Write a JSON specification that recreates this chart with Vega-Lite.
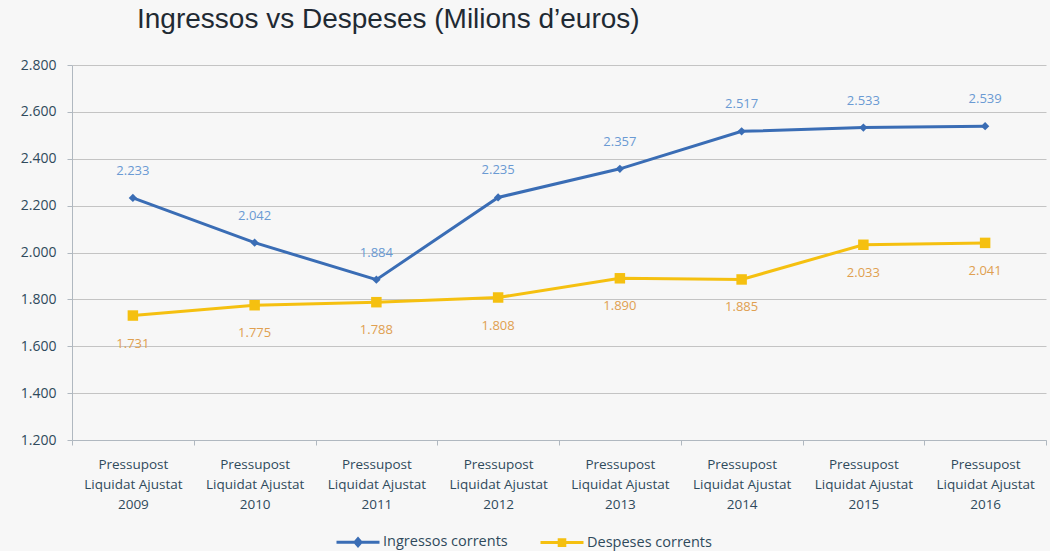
{
  "$schema": "https://vega.github.io/schema/vega-lite/v6.json",
  "width": 974,
  "height": 375,
  "autosize": {"type": "none"},
  "padding": {"left": 72, "top": 65, "right": 4, "bottom": 111},
  "background": "#F7F7F7",
  "config": {
    "locale": {"number": {"decimal": ",", "thousands": ".", "grouping": [3], "currency": ["", " €"]}},
    "view": {"stroke": null},
    "font": "Open Sans"
  },
  "title": {
    "text": "Ingressos vs Despeses (Milions d’euros)",
    "anchor": "start",
    "frame": "group",
    "dx": 65,
    "offset": 24,
    "fontSize": 28,
    "font": "Liberation Sans",
    "fontWeight": "normal",
    "color": "#1F2A33"
  },
  "data": {
    "values": [
      {"any": "2009", "serie": "Ingressos corrents", "valor": 2233},
      {"any": "2010", "serie": "Ingressos corrents", "valor": 2042},
      {"any": "2011", "serie": "Ingressos corrents", "valor": 1884},
      {"any": "2012", "serie": "Ingressos corrents", "valor": 2235},
      {"any": "2013", "serie": "Ingressos corrents", "valor": 2357},
      {"any": "2014", "serie": "Ingressos corrents", "valor": 2517},
      {"any": "2015", "serie": "Ingressos corrents", "valor": 2533},
      {"any": "2016", "serie": "Ingressos corrents", "valor": 2539},
      {"any": "2009", "serie": "Despeses corrents", "valor": 1731},
      {"any": "2010", "serie": "Despeses corrents", "valor": 1775},
      {"any": "2011", "serie": "Despeses corrents", "valor": 1788},
      {"any": "2012", "serie": "Despeses corrents", "valor": 1808},
      {"any": "2013", "serie": "Despeses corrents", "valor": 1890},
      {"any": "2014", "serie": "Despeses corrents", "valor": 1885},
      {"any": "2015", "serie": "Despeses corrents", "valor": 2033},
      {"any": "2016", "serie": "Despeses corrents", "valor": 2041}
    ]
  },
  "encoding": {
    "x": {
      "field": "any",
      "type": "ordinal",
      "bandPosition": 0.5,
      "scale": {"type": "band", "paddingInner": 0, "paddingOuter": 0},
      "axis": {
        "title": null,
        "labelAngle": 0,
        "labelExpr": "length(datum.label + '') == 4 ? ['Pressupost', 'Liquidat Ajustat', datum.label] : ''",
        "labelLineHeight": 20,
        "labelFontSize": 13.5,
        "labelColor": "#2F4A5C",
        "labelPadding": 12,
        "labelFlush": false,
        "labelOverlap": false,
        "tickBand": "extent",
        "tickColor": "#B0B8C0",
        "tickSize": 5,
        "domainColor": "#B0B8C0",
        "grid": false
      }
    },
    "y": {
      "field": "valor",
      "type": "quantitative",
      "scale": {"domain": [1200, 2800], "zero": false, "nice": false},
      "axis": {
        "title": null,
        "values": [1200, 1400, 1600, 1800, 2000, 2200, 2400, 2600, 2800],
        "format": ",d",
        "labelFontSize": 14,
        "labelColor": "#2F4A5C",
        "labelPadding": 11,
        "gridColor": "#C4C4C4",
        "tickColor": "#B0B8C0",
        "tickSize": 5,
        "domainColor": "#B0B8C0"
      }
    },
    "color": {
      "field": "serie",
      "type": "nominal",
      "scale": {"domain": ["Ingressos corrents", "Despeses corrents"], "range": ["#3A6DB5", "#F5C010"]},
      "legend": {
        "orient": "none",
        "legendX": 263,
        "legendY": 454,
        "direction": "horizontal",
        "title": null,
        "labelFontSize": 14.5,
        "labelColor": "#2F4A5C",
        "labelOffset": 2,
        "symbolSize": 1849,
        "symbolStrokeWidth": 3,
        "columnPadding": 26,
        "encode": {
          "symbols": {
            "update": {
              "shape": {"signal": "datum.value == 'Ingressos corrents' ? 'M-1,0H1M0,-0.16L0.14,0L0,0.16L-0.14,0Z' : 'M-1,0H1M-0.13,-0.13H0.13V0.13H-0.13Z'"},
              "stroke": {"signal": "datum.value == 'Ingressos corrents' ? '#3A6DB5' : '#F5C010'"},
              "fill": {"signal": "datum.value == 'Ingressos corrents' ? '#3A6DB5' : '#F5C010'"},
              "strokeWidth": {"value": 3},
              "opacity": {"value": 1}
            }
          }
        }
      }
    }
  },
  "layer": [
    {"mark": {"type": "line", "strokeWidth": 3}},
    {
      "transform": [{"filter": "datum.serie == 'Ingressos corrents'"}],
      "mark": {"type": "point", "filled": true, "opacity": 1, "shape": "diamond", "size": 70}
    },
    {
      "transform": [{"filter": "datum.serie == 'Despeses corrents'"}],
      "mark": {"type": "point", "filled": true, "opacity": 1, "shape": "square", "size": 110}
    },
    {
      "transform": [{"filter": "datum.serie == 'Ingressos corrents'"}],
      "mark": {"type": "text", "dy": -27, "fontSize": 13},
      "encoding": {"text": {"field": "valor", "type": "quantitative", "format": ",d"}, "color": {"value": "#6A9AD3"}}
    },
    {
      "transform": [{"filter": "datum.serie == 'Despeses corrents'"}],
      "mark": {"type": "text", "dy": 28, "fontSize": 13},
      "encoding": {"text": {"field": "valor", "type": "quantitative", "format": ",d"}, "color": {"value": "#E0A050"}}
    }
  ]
}
